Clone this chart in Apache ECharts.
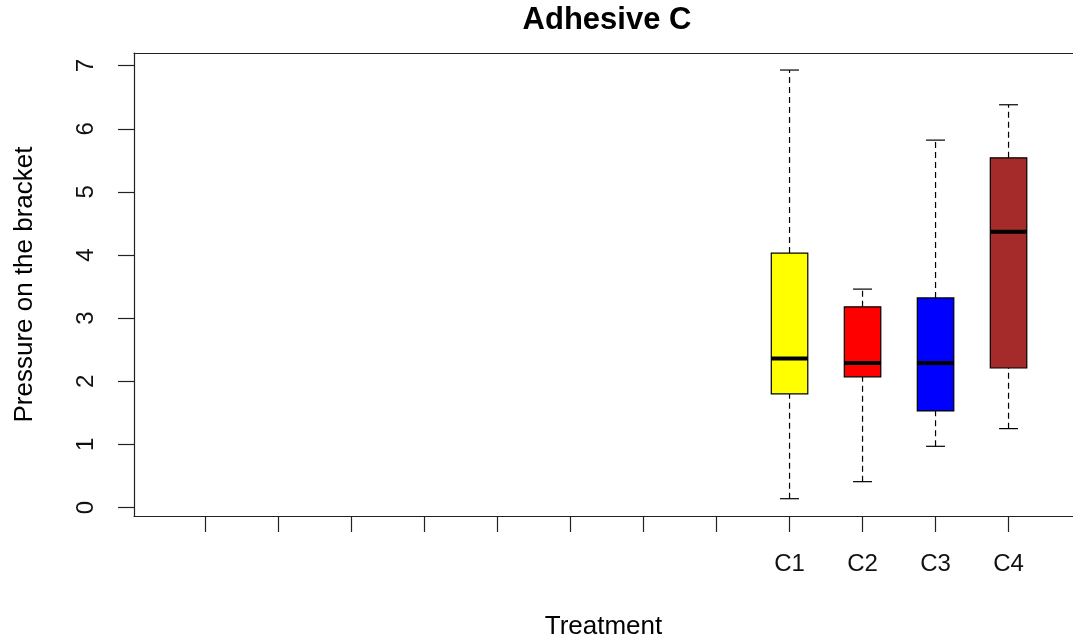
<!DOCTYPE html>
<html>
<head>
<meta charset="utf-8">
<script src="https://cdn.jsdelivr.net/npm/echarts@6/dist/echarts.min.js"></script>
<style>html,body{margin:0;padding:0;background:#fff;}#c{width:1073px;height:640px;}</style>
</head>
<body>
<div id="c"></div>
<script>
// Data
var categories = ['', '', '', '', '', '', '', '', 'C1', 'C2', 'C3', 'C4'];
var groups = ['C1', 'C2', 'C3', 'C4'];
var groupPositions = [9, 10, 11, 12];
var lowerWhisker = [0.14, 0.41, 0.97, 1.25];
var q1 = [1.80, 2.07, 1.53, 2.21];
var median = [2.36, 2.29, 2.29, 4.37];
var q3 = [4.03, 3.18, 3.32, 5.54];
var upperWhisker = [6.93, 3.46, 5.82, 6.38];
var boxColors = ['#FFFF00', '#FF0000', '#0000FF', '#A52A2A'];
var yTicks = [0, 1, 2, 3, 4, 5, 6, 7];

var font = '"Liberation Sans", Arial, Helvetica, sans-serif';

var seriesData = groups.map(function (g, i) {
  return [groupPositions[i], lowerWhisker[i], q1[i], median[i], q3[i], upperWhisker[i], i];
});

var tickPositions = categories.map(function (c, i) { return i + 1; });

function renderItem(params, api) {
  var x = api.value(0);
  var lo = api.value(1), a = api.value(2), m = api.value(3), b = api.value(4), hi = api.value(5);
  var ci = api.value(6);
  var halfBox = 0.25, halfCap = 0.13;
  var pLo = api.coord([x, lo]), pA = api.coord([x, a]), pM = api.coord([x, m]),
      pB = api.coord([x, b]), pHi = api.coord([x, hi]);
  var xl = api.coord([x - halfBox, m])[0], xr = api.coord([x + halfBox, m])[0];
  var cl = api.coord([x - halfCap, m])[0], cr = api.coord([x + halfCap, m])[0];
  var dash = { stroke: '#000', lineWidth: 1.2, lineDash: [6, 4] };
  var solid = { stroke: '#000', lineWidth: 1.2 };
  return {
    type: 'group',
    children: [
      { type: 'line', shape: { x1: pB[0], y1: pB[1], x2: pHi[0], y2: pHi[1] }, style: dash },
      { type: 'line', shape: { x1: pLo[0], y1: pLo[1], x2: pA[0], y2: pA[1] }, style: dash },
      { type: 'line', shape: { x1: cl, y1: pHi[1], x2: cr, y2: pHi[1] }, style: solid },
      { type: 'line', shape: { x1: cl, y1: pLo[1], x2: cr, y2: pLo[1] }, style: solid },
      { type: 'rect', shape: { x: xl, y: pB[1], width: xr - xl, height: pA[1] - pB[1] },
        style: { fill: boxColors[ci], stroke: '#000', lineWidth: 1.2 } },
      { type: 'line', shape: { x1: xl, y1: pM[1], x2: xr, y2: pM[1] }, style: { stroke: '#000', lineWidth: 4 } }
    ]
  };
}

var axisLineStyle = { color: '#222', width: 1.2 };

var chart = echarts.init(document.getElementById('c'), null, { renderer: 'canvas' });
chart.setOption({
  backgroundColor: '#fff',
  animation: false,
  title: {
    text: 'Adhesive C',
    left: 607, top: 5, padding: 0, textAlign: 'center',
    textStyle: { fontFamily: font, fontWeight: 'bold', fontSize: 31, color: '#000' }
  },
  grid: {
    left: 134, top: 53, right: 0, bottom: 124,
    show: false, containLabel: false, outerBoundsMode: 'none'
  },
  xAxis: [{
    type: 'value', min: 0.02, max: 12.883,
    name: 'Treatment', nameLocation: 'middle', nameGap: 98,
    nameTextStyle: { fontFamily: font, fontSize: 26, color: '#000' },
    splitLine: { show: false },
    axisLine: { show: true, onZero: false, lineStyle: axisLineStyle },
    axisTick: { show: true, length: 16, customValues: tickPositions, lineStyle: axisLineStyle },
    axisLabel: {
      customValues: tickPositions, margin: 36,
      fontFamily: font, fontSize: 24, color: '#111',
      formatter: function (v) { return categories[Math.round(v) - 1] || ''; }
    }
  }, {
    type: 'value', position: 'top', min: 0.02, max: 12.883,
    splitLine: { show: false },
    axisLine: { show: true, onZero: false, lineStyle: axisLineStyle },
    axisTick: { show: false },
    axisLabel: { show: false }
  }],
  yAxis: {
    type: 'value', min: -0.134, max: 7.2,
    name: 'Pressure on the bracket', nameLocation: 'middle', nameGap: 96, nameRotate: 90,
    nameTextStyle: { fontFamily: font, fontSize: 26, color: '#000' },
    splitLine: { show: false },
    axisLine: { show: true, onZero: false, lineStyle: axisLineStyle },
    axisTick: { show: true, length: 16, customValues: yTicks, lineStyle: axisLineStyle },
    axisLabel: {
      customValues: yTicks, rotate: 90, margin: 36,
      fontFamily: font, fontSize: 24, color: '#111',
      formatter: function (v) { return String(v); }
    }
  },
  series: [{
    type: 'custom',
    renderItem: renderItem,
    xAxisIndex: 0, yAxisIndex: 0,
    encode: { x: 0, y: [1, 2, 3, 4, 5] },
    data: seriesData,
    clip: false
  }]
});
</script>
</body>
</html>
